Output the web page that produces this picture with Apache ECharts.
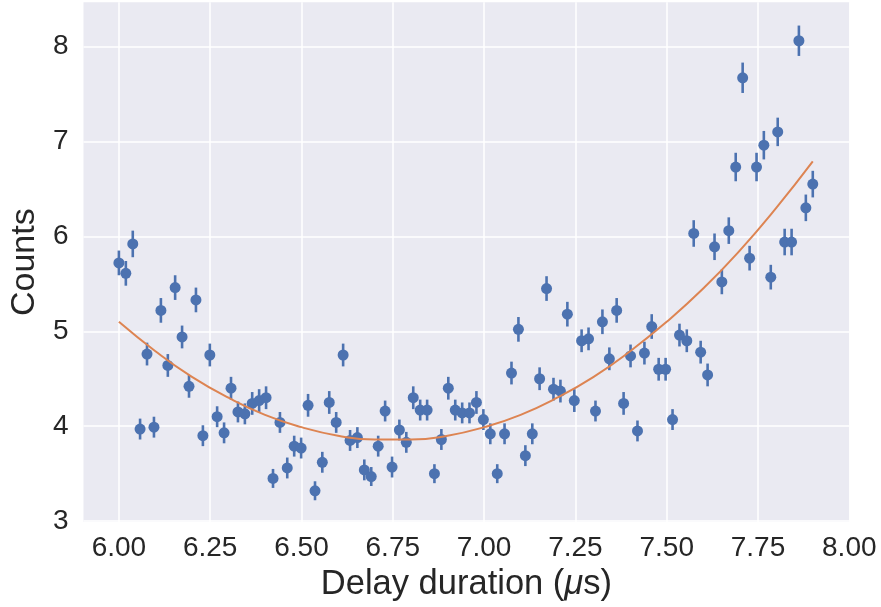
<!DOCTYPE html>
<html>
<head>
<meta charset="utf-8">
<title>Counts vs delay duration</title>
<script src="https://cdn.jsdelivr.net/npm/echarts@6.0.0/dist/echarts.min.js"></script>
<style>
  html, body { margin: 0; padding: 0; background: #fff; }
  #chart { width: 881px; height: 607px; }
</style>
</head>
<body>
<div id="chart"></div>
<script>
// delay duration (us), one per measurement
var delays = [
  6.000, 6.019, 6.038, 6.058, 6.077, 6.096, 6.115, 6.134, 6.154, 6.173,
  6.192, 6.211, 6.230, 6.249, 6.269, 6.288, 6.307, 6.326, 6.345, 6.365,
  6.384, 6.403, 6.422, 6.441, 6.461, 6.480, 6.499, 6.518, 6.537, 6.557,
  6.576, 6.595, 6.614, 6.633, 6.653, 6.672, 6.691, 6.710, 6.729, 6.748,
  6.768, 6.787, 6.806, 6.825, 6.844, 6.864, 6.883, 6.902, 6.921, 6.940,
  6.960, 6.979, 6.998, 7.017, 7.036, 7.056, 7.075, 7.094, 7.113, 7.132,
  7.152, 7.171, 7.190, 7.209, 7.228, 7.247, 7.267, 7.286, 7.305, 7.324,
  7.343, 7.363, 7.382, 7.401, 7.420, 7.439, 7.459, 7.478, 7.497, 7.516,
  7.535, 7.555, 7.574, 7.593, 7.612, 7.631, 7.651, 7.670, 7.689, 7.708,
  7.727, 7.746, 7.766, 7.785, 7.804, 7.823, 7.842, 7.862, 7.881, 7.900
];

var counts = [
  5.72, 5.61, 5.92, 3.97, 4.76, 3.99, 5.22, 4.64, 5.46, 4.94,
  4.42, 5.33, 3.90, 4.75, 4.10, 3.93, 4.40, 4.15, 4.13, 4.24,
  4.27, 4.30, 3.45, 4.04, 3.56, 3.79, 3.77, 4.22, 3.32, 3.62,
  4.25, 4.04, 4.75, 3.85, 3.88, 3.54, 3.47, 3.79, 4.16, 3.57,
  3.96, 3.83, 4.30, 4.17, 4.17, 3.50, 3.86, 4.40, 4.17, 4.14,
  4.14, 4.25, 4.07, 3.92, 3.50, 3.92, 4.56, 5.02, 3.69, 3.92,
  4.50, 5.45, 4.39, 4.37, 5.18, 4.27, 4.90, 4.92, 4.16, 5.10,
  4.71, 5.22, 4.24, 4.74, 3.95, 4.77, 5.05, 4.60, 4.60, 4.07,
  4.96, 4.90, 6.03, 4.78, 4.54, 5.89, 5.52, 6.06, 6.73, 7.67,
  5.77, 6.73, 6.96, 5.57, 7.10, 5.94, 5.94, 8.06, 6.30, 6.55
];

// half length of each error bar
var errors = [
  0.13, 0.13, 0.14, 0.11, 0.12, 0.11, 0.13, 0.12, 0.13, 0.12,
  0.12, 0.13, 0.11, 0.12, 0.11, 0.11, 0.12, 0.11, 0.11, 0.12,
  0.12, 0.12, 0.10, 0.11, 0.11, 0.11, 0.11, 0.12, 0.10, 0.11,
  0.12, 0.11, 0.12, 0.11, 0.11, 0.11, 0.10, 0.11, 0.11, 0.11,
  0.11, 0.11, 0.12, 0.11, 0.11, 0.10, 0.11, 0.12, 0.11, 0.11,
  0.11, 0.12, 0.11, 0.11, 0.10, 0.11, 0.12, 0.13, 0.11, 0.11,
  0.12, 0.13, 0.12, 0.12, 0.13, 0.12, 0.12, 0.12, 0.11, 0.13,
  0.12, 0.13, 0.12, 0.12, 0.11, 0.12, 0.13, 0.12, 0.12, 0.11,
  0.12, 0.12, 0.14, 0.12, 0.12, 0.14, 0.13, 0.14, 0.15, 0.16,
  0.13, 0.15, 0.15, 0.13, 0.15, 0.14, 0.14, 0.16, 0.14, 0.14
];

// fitted curve
var fitX = [6.0, 6.1, 6.2, 6.3, 6.4, 6.5, 6.6, 6.7, 6.8, 6.9,
            7.0, 7.1, 7.2, 7.3, 7.4, 7.5, 7.6, 7.7, 7.8, 7.9];
var fitY = [5.10, 4.79, 4.52, 4.30, 4.12, 3.99, 3.90, 3.86, 3.86, 3.90,
            3.99, 4.12, 4.30, 4.52, 4.79, 5.10, 5.45, 5.85, 6.30, 6.79];

var xTicks = [6.00, 6.25, 6.50, 6.75, 7.00, 7.25, 7.50, 7.75, 8.00];
var yTicks = [3, 4, 5, 6, 7, 8];

var BLUE = '#4c72b0',
  ORANGE = '#dd8452',
  TEXT = '#262626',
  FONT = '"Liberation Sans", Arial, sans-serif';

var points = delays.map(function (x, i) { return [x, counts[i]]; });
var bars = delays.map(function (x, i) {
  return [x, counts[i] - errors[i], counts[i] + errors[i]];
});
var fit = fitX.map(function (x, i) { return [x, fitY[i]]; });

var chart = echarts.init(document.getElementById('chart'), null, { renderer: 'canvas' });

chart.setOption({
  animation: false,
  backgroundColor: '#ffffff',
  grid: {
    left: 80,
    right: 31.7,
    top: 2.3,
    bottom: 81.5,
    show: true,
    backgroundColor: '#eaeaf2',
    borderWidth: 0
  },
  xAxis: {
    type: 'value',
    min: 5.903,
    max: 8.0,
    name: 'Delay duration ({it|μ}s)',
    nameLocation: 'middle',
    nameGap: 41,
    nameTextStyle: {
      fontSize: 34.5,
      fontFamily: FONT,
      color: TEXT,
      rich: {
        it: { fontSize: 34.5, fontFamily: FONT, fontStyle: 'italic', color: TEXT }
      }
    },
    axisLine: { show: false },
    axisTick: { show: false, customValues: xTicks },
    axisLabel: {
      customValues: xTicks,
      margin: 12,
      fontSize: 28,
      fontFamily: FONT,
      color: TEXT,
      formatter: function (v) { return v.toFixed(2); }
    },
    splitLine: { show: true, lineStyle: { color: '#ffffff', width: 1.5 } }
  },
  yAxis: {
    type: 'value',
    min: 2.99,
    max: 8.465,
    name: 'Counts',
    nameLocation: 'middle',
    nameGap: 36,
    nameTextStyle: { fontSize: 34, fontFamily: FONT, color: TEXT },
    axisLine: { show: false },
    axisTick: { show: false, customValues: yTicks },
    axisLabel: {
      customValues: yTicks,
      margin: 15,
      fontSize: 28,
      fontFamily: FONT,
      color: TEXT
    },
    splitLine: { show: true, lineStyle: { color: '#ffffff', width: 1.5 } }
  },
  series: [
    {
      // vertical error bars
      type: 'custom',
      data: bars,
      encode: { x: 0, y: [1, 2] },
      z: 2,
      renderItem: function (params, api) {
        var lo = api.coord([api.value(0), api.value(1)]);
        var hi = api.coord([api.value(0), api.value(2)]);
        return {
          type: 'line',
          shape: { x1: lo[0], y1: lo[1], x2: hi[0], y2: hi[1] },
          style: { stroke: BLUE, lineWidth: 2.6 }
        };
      }
    },
    {
      type: 'scatter',
      data: points,
      symbol: 'circle',
      symbolSize: 11,
      itemStyle: { color: BLUE, opacity: 1 },
      z: 3
    },
    {
      type: 'line',
      data: fit,
      smooth: true,
      showSymbol: false,
      lineStyle: { color: ORANGE, width: 2 },
      z: 4
    }
  ]
});
</script>
</body>
</html>
